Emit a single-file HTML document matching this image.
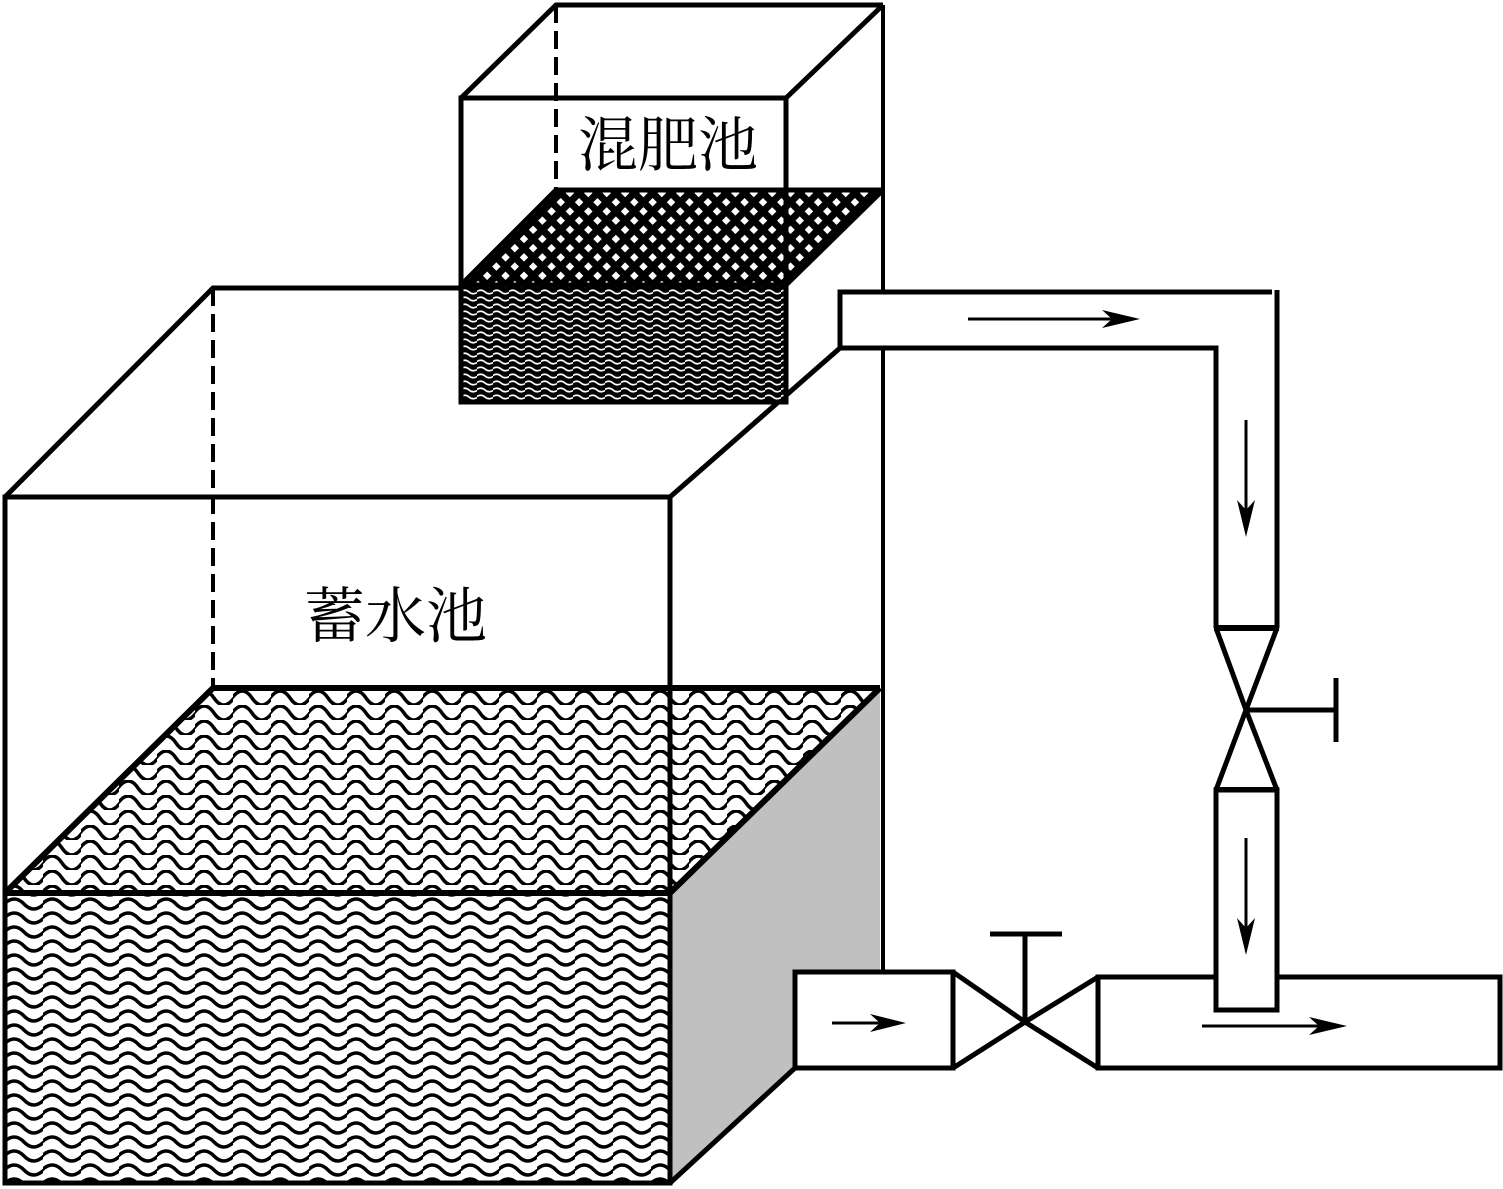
<!DOCTYPE html>
<html><head><meta charset="utf-8"><style>html,body{margin:0;padding:0;background:#fff}svg{display:block}</style></head>
<body>
<svg width="1503" height="1189" viewBox="0 0 1503 1189" xmlns="http://www.w3.org/2000/svg">
<defs>
<pattern id="wBig" width="38" height="14" patternUnits="userSpaceOnUse" x="5" y="897">
<path d="M-1,7 Q9.5,-3 19,7 T39,7" fill="none" stroke="#000" stroke-width="3.5"/>
</pattern>
<pattern id="wTop" width="38" height="15" patternUnits="userSpaceOnUse" x="5" y="690">
<path d="M-1,8 Q9.5,-6 19,8 T39,8" fill="none" stroke="#000" stroke-width="3.5"/>
</pattern>
<pattern id="wSmall" width="16" height="7" patternUnits="userSpaceOnUse" x="461" y="288">
<rect width="16" height="7" fill="#000"/>
<path d="M-1,4 Q4,0.5 8,4 T17,4" fill="none" stroke="#fff" stroke-width="1.6"/>
</pattern>
<pattern id="xh" width="13" height="13" patternUnits="userSpaceOnUse" patternTransform="rotate(45)">
<rect width="13" height="13" fill="#000"/>
<rect x="3.5" y="3.5" width="6" height="6" fill="#fff"/>
</pattern>
</defs>

<g stroke="#000" stroke-width="5" fill="none" stroke-linejoin="miter">
<polygon points="670,893 880,688 880,975 795,975 795,1068 670,1183" fill="#c0c0c0" stroke="none"/>
<polygon points="5,893 670,893 880,688 213,688" fill="url(#wTop)" stroke="none"/>
<rect x="5" y="893" width="665" height="290" fill="url(#wBig)" stroke="none"/>
<line x1="213" y1="288" x2="213" y2="688" stroke-dasharray="18,8" stroke-width="4"/>
<polyline points="5,497 213,288 470,288"/>
<rect x="5" y="497" width="665" height="686"/>
<line x1="5" y1="893" x2="670" y2="893" stroke-width="6"/>
<polyline points="5,893 213,688 880,688" stroke-width="6"/>
<line x1="670" y1="893" x2="880" y2="688" stroke-width="6"/>
<line x1="670" y1="1183" x2="795" y2="1068"/>
<line x1="670" y1="497" x2="840" y2="348"/>
<line x1="883" y1="5" x2="883" y2="975" stroke-width="4"/>

<rect x="461" y="98" width="325" height="304" fill="#fff" stroke="none"/>
<polygon points="461,285 786,285 883,190 556,190" fill="url(#xh)" stroke="none"/>
<rect x="461" y="285" width="325" height="117" fill="url(#wSmall)" stroke="none"/>
<line x1="556" y1="5" x2="556" y2="190" stroke-dasharray="18,8" stroke-width="4"/>
<polyline points="461,98 556,5 883,5"/>
<line x1="786" y1="98" x2="883" y2="5"/>
<rect x="461" y="98" width="325" height="304"/>
<line x1="461" y1="285" x2="786" y2="285"/>
<polyline points="461,285 556,190 883,190"/>
<line x1="786" y1="285" x2="883" y2="190"/>

<rect x="840" y="292" width="45" height="56" fill="#fff" stroke="none"/>
<polyline points="1272,292 840,292 840,348 1216,348 1216,628"/>
<line x1="1277" y1="290" x2="1277" y2="628"/>
<line x1="1214" y1="628" x2="1279" y2="628" stroke-width="6"/>
<polyline points="1216,628 1246,710 1277,628"/>
<polyline points="1216,790 1246,710 1277,790"/>
<line x1="1246" y1="710" x2="1336" y2="710"/>
<line x1="1336" y1="678" x2="1336" y2="742"/>
<line x1="1214" y1="790" x2="1279" y2="790" stroke-width="6"/>
<rect x="795" y="972" width="158" height="96" fill="#fff"/>
<polyline points="953,972 1025,1022 953,1068"/>
<polyline points="1098,977 1025,1022 1098,1068"/>
<line x1="1025" y1="933" x2="1025" y2="1022"/>
<line x1="990" y1="934" x2="1062" y2="934"/>
<rect x="1098" y="977" width="402" height="91" fill="#fff"/>
<rect x="1216" y="790" width="61" height="220" fill="#fff"/>
</g>

<g stroke="#000" stroke-width="3" fill="none">
<line x1="968" y1="319" x2="1120" y2="319"/>
<line x1="1246" y1="420" x2="1246" y2="515"/>
<line x1="1246" y1="838" x2="1246" y2="935"/>
<line x1="832" y1="1023" x2="890" y2="1023"/>
<line x1="1202" y1="1026" x2="1330" y2="1026"/>
</g>
<g fill="#000">
<polygon points="1140,319 1102,310 1112,319 1102,328"/>
<polygon points="1246,537 1237,500 1246,510 1255,500"/>
<polygon points="1246,955 1237,918 1246,928 1255,918"/>
<polygon points="906,1023 870,1014 880,1023 870,1032"/>
<polygon points="1347,1026 1309,1017 1319,1026 1309,1035"/>
</g>

<text x="578" y="166" font-family="'Liberation Serif','Noto Serif CJK SC',serif" font-size="60" fill="#000">混肥池</text>
<text x="304" y="637" font-family="'Liberation Serif','Noto Serif CJK SC',serif" font-size="61" fill="#000">蓄水池</text>
</svg>
</body></html>
